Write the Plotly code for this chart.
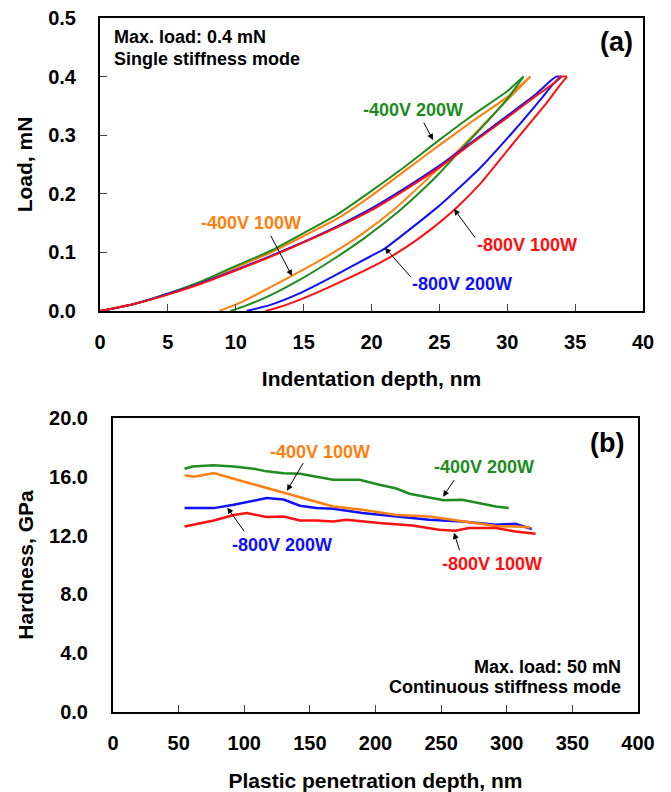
import plotly.graph_objects as go

# ---------------- Panel (a): load-displacement curves ----------------
# -400V 200W (green)
d_g_load = [0, 2.5, 5, 7.5, 10, 12.5, 15, 17.5, 20, 22.5, 25, 27.5, 30, 31.2]
p_g_load = [0, 0.012, 0.03, 0.051, 0.077, 0.102, 0.133, 0.165, 0.205, 0.247, 0.292, 0.335, 0.375, 0.4]
d_g_unload = [31.2, 30, 28, 27.1, 26, 25, 24, 21.9, 19.4, 16.9, 14.7, 12.3, 10.5, 9.6]
p_g_unload = [0.4, 0.362, 0.31, 0.288, 0.26, 0.235, 0.212, 0.168, 0.123, 0.084, 0.053, 0.024, 0.007, 0]
# -400V 100W (orange)
d_o_load = [0, 2.5, 5, 7.5, 10, 12.5, 15, 17.5, 20, 22.5, 25, 27.5, 30, 31.7]
p_o_load = [0, 0.012, 0.029, 0.05, 0.074, 0.099, 0.128, 0.158, 0.197, 0.24, 0.283, 0.325, 0.365, 0.4]
d_o_unload = [31.7, 30, 28, 26, 24.8, 21.9, 19.4, 17, 14.7, 12.5, 10.5, 8.8]
p_o_unload = [0.4, 0.36, 0.312, 0.265, 0.24, 0.178, 0.133, 0.097, 0.067, 0.04, 0.016, 0]
# -800V 200W (blue)
d_b_load = [0, 2.5, 5, 7.5, 10, 12.5, 15, 17.5, 20, 22.5, 25, 27.5, 30, 32, 33.3, 33.6, 34.0]
p_b_load = [0, 0.012, 0.029, 0.048, 0.07, 0.093, 0.118, 0.145, 0.175, 0.21, 0.248, 0.29, 0.333, 0.368, 0.395, 0.4, 0.4]
d_b_unload = [34.0, 33.3, 32.6, 30.4, 28, 27, 24.8, 21, 19.9, 17, 14.7, 12.5, 10.8]
p_b_unload = [0.4, 0.385, 0.365, 0.305, 0.244, 0.222, 0.176, 0.107, 0.093, 0.057, 0.03, 0.01, 0]
# -800V 100W (red)
d_r_load = [0, 2.5, 5, 7.5, 10, 12.5, 15, 17.5, 20, 22.5, 25, 27.5, 30, 32, 33.5, 33.9, 34.4]
p_r_load = [0, 0.012, 0.028, 0.047, 0.069, 0.092, 0.117, 0.143, 0.172, 0.207, 0.245, 0.288, 0.33, 0.365, 0.39, 0.4, 0.4]
d_r_unload = [34.4, 33.8, 32.9, 30.4, 28, 26.2, 24.3, 22.5, 20.6, 17, 14.7, 13, 12.2]
p_r_unload = [0.4, 0.383, 0.355, 0.285, 0.217, 0.175, 0.138, 0.108, 0.082, 0.042, 0.019, 0.005, 0]

# ---------------- Panel (b): hardness vs plastic depth ----------------
h_g_x = [54.5, 60.6, 76.5, 91.9, 107, 117, 130, 142.6, 155, 167.7, 172.7, 187.9, 203, 215.9, 225.8, 240.9, 252, 266, 278.8, 291.7, 301.5]
h_g_y = [16.55, 16.7, 16.78, 16.7, 16.55, 16.37, 16.25, 16.2, 16.0, 15.8, 15.8, 15.8, 15.46, 15.2, 14.85, 14.6, 14.4, 14.44, 14.2, 13.98, 13.87]
h_o_x = [54.5, 61.5, 68, 76.8, 92, 107, 122, 132.6, 142.4, 155, 167.7, 190, 216, 241, 266, 291.7, 311, 318]
h_o_y = [16.1, 16.0, 16.1, 16.25, 15.87, 15.5, 15.12, 14.87, 14.62, 14.3, 13.98, 13.76, 13.4, 13.3, 12.96, 12.66, 12.6, 12.55]
h_b_x = [54.5, 76.8, 92, 107, 117, 130, 142.4, 155, 167.7, 190, 216, 241, 266, 291.7, 306.6, 319]
h_b_y = [13.87, 13.87, 14.1, 14.4, 14.55, 14.45, 14.03, 13.87, 13.83, 13.53, 13.3, 13.08, 12.96, 12.74, 12.8, 12.45]
h_r_x = [54.5, 76.8, 92, 102, 117, 130, 142.4, 155, 167.7, 177.8, 203, 228, 248.5, 261, 271, 291.7, 306.6, 322]
h_r_y = [12.62, 13.03, 13.4, 13.53, 13.26, 13.3, 13.03, 13.03, 12.96, 13.08, 12.85, 12.69, 12.4, 12.33, 12.51, 12.51, 12.28, 12.12]

GREEN = "#1E8C1E"
ORANGE = "#FF7F10"
BLUE = "#1010FF"
RED = "#FF1010"
FONT = "Arial, 'Liberation Sans', sans-serif"

fig = go.Figure()

series_a = [
    (d_o_load, p_o_load, d_o_unload, p_o_unload, ORANGE),
    (d_g_load, p_g_load, d_g_unload, p_g_unload, GREEN),
    (d_b_load, p_b_load, d_b_unload, p_b_unload, BLUE),
    (d_r_load, p_r_load, d_r_unload, p_r_unload, RED),
]
for xl, yl, xu, yu, c in series_a:
    for xs, ys in ((xl, yl), (xu, yu)):
        fig.add_trace(go.Scatter(x=xs, y=ys, mode="lines",
                                 line=dict(color=c, width=2, shape="spline", smoothing=0.5),
                                 xaxis="x", yaxis="y", showlegend=False))

series_b = [
    (h_g_x, h_g_y, GREEN),
    (h_b_x, h_b_y, BLUE),
    (h_o_x, h_o_y, ORANGE),
    (h_r_x, h_r_y, RED),
]
for xs, ys, c in series_b:
    fig.add_trace(go.Scatter(x=xs, y=ys, mode="lines", line=dict(color=c, width=2.5),
                             xaxis="x2", yaxis="y2", showlegend=False))

axis_common = dict(showline=True, linecolor="black", linewidth=2, mirror=True,
                   showgrid=False, zeroline=False, ticks="inside", ticklen=7,
                   tickwidth=1, tickcolor="#444", automargin=False,
                   tickfont=dict(family=FONT, size=20, color="black", weight="bold"))

title_font = dict(family=FONT, size=21, color="black", weight="bold")

fig.update_layout(
    width=671, height=792,
    margin=dict(l=0, r=0, t=0, b=0),
    paper_bgcolor="white", plot_bgcolor="white",
    font=dict(family=FONT, color="black", weight="bold"),
    xaxis=dict(axis_common, domain=[100/671, 643/671], range=[0, 40], dtick=5,
               anchor="y", ticklabelstandoff=12,
               title=dict(text="Indentation depth, nm", font=title_font, standoff=19)),
    yaxis=dict(axis_common, domain=[1-311/792, 1-18/792], range=[0, 0.5], dtick=0.1,
               tickformat=".1f", anchor="x", ticklabelstandoff=18,
               title=dict(text="Load, mN", font=title_font, standoff=10)),
    xaxis2=dict(axis_common, domain=[113/671, 638/671], range=[0, 400], dtick=50,
                anchor="y2", ticklabelstandoff=12,
                title=dict(text="Plastic penetration depth, nm", font=title_font, standoff=20)),
    yaxis2=dict(axis_common, domain=[1-712/792, 1-418/792], range=[0, 20], dtick=4,
                tickformat=".1f", anchor="x2", ticks="", ticklabelstandoff=19,
                title=dict(text="Hardness, GPa", font=title_font, standoff=10)),
)

lab = dict(family=FONT, size=18, weight="bold")

def label(text, x, y, color, xr, yr, xanchor="center"):
    fig.add_annotation(text=text, x=x, y=y, xref=xr, yref=yr, showarrow=False,
                       xanchor=xanchor, yanchor="middle",
                       font=dict(lab, color=color))

def arrow(xh, yh, xt, yt, xr, yr):
    fig.add_annotation(text="", x=xh, y=yh, ax=xt, ay=yt, xref=xr, yref=yr,
                       axref=xr, ayref=yr, showarrow=True, arrowhead=2,
                       arrowsize=1.2, arrowwidth=1, arrowcolor="black")

# Panel (a) annotations
label("-400V 200W", 23.06, 0.343, GREEN, "x", "y")
arrow(24.53, 0.292, 23.79, 0.324, "x", "y")
label("-400V 100W", 11.12, 0.150, ORANGE, "x", "y")
arrow(14.14, 0.060, 12.52, 0.131, "x", "y")
label("-800V 100W", 31.45, 0.113, RED, "x", "y")
arrow(26.08, 0.174, 27.70, 0.123, "x", "y")
label("-800V 200W", 26.67, 0.046, BLUE, "x", "y")
arrow(20.99, 0.108, 22.98, 0.056, "x", "y")
label("Max. load: 0.4 mN", 0.88, 0.468, "black", "x", "y", xanchor="left")
label("Single stiffness mode", 0.88, 0.430, "black", "x", "y", xanchor="left")
fig.add_annotation(text="(a)", x=39.4, y=0.459, xref="x", yref="y", showarrow=False,
                   xanchor="right", yanchor="middle",
                   font=dict(family=FONT, size=27, color="black", weight="bold"))

# Panel (b) annotations
label("-400V 100W", 157.6, 17.71, ORANGE, "x2", "y2")
arrow(132.6, 15.05, 145.5, 17.03, "x2", "y2")
label("-400V 200W", 282.6, 16.69, GREEN, "x2", "y2")
arrow(251.5, 14.65, 260.6, 15.87, "x2", "y2")
label("-800V 200W", 128.8, 11.38, BLUE, "x2", "y2")
arrow(87.1, 13.9, 100.8, 12.19, "x2", "y2")
label("-800V 100W", 288.6, 10.08, RED, "x2", "y2")
arrow(259.8, 12.19, 264.4, 10.9, "x2", "y2")
label("Max. load: 50 mN", 388.6, 3.07, "black", "x2", "y2", xanchor="right")
label("Continuous stiffness mode", 388.6, 1.70, "black", "x2", "y2", xanchor="right")
fig.add_annotation(text="(b)", x=391, y=18.32, xref="x2", yref="y2", showarrow=False,
                   xanchor="right", yanchor="middle",
                   font=dict(family=FONT, size=27, color="black", weight="bold"))

fig.write_html("out.html", config={"displayModeBar": False},
               post_script="document.body.style.margin='0';document.body.style.overflow='hidden';")
